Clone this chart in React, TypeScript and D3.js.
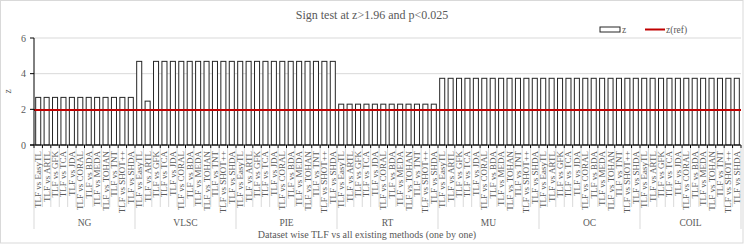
import React from "react";
import * as d3 from "d3";

const datasets = ["NG", "VLSC", "PIE", "RT", "MU", "OC", "COIL"];
const methods = ["EasyTL", "ARTL", "GFK", "TCA", "JDA", "CORAL", "BDA", "MEDA", "TOHAN", "TNT", "SHOT++", "SHDA"];

// z per dataset, one value per method (same order as methods)
const zNG = [2.67, 2.67, 2.67, 2.67, 2.67, 2.67, 2.67, 2.67, 2.67, 2.67, 2.67, 2.67];
const zVLSC = [4.69, 2.46, 4.69, 4.69, 4.69, 4.69, 4.69, 4.69, 4.69, 4.69, 4.69, 4.69];
const zPIE = [4.69, 4.69, 4.69, 4.69, 4.69, 4.69, 4.69, 4.69, 4.69, 4.69, 4.69, 4.69];
const zRT = [2.29, 2.29, 2.29, 2.29, 2.29, 2.29, 2.29, 2.29, 2.29, 2.29, 2.29, 2.29];
const zMU = [3.74, 3.74, 3.74, 3.74, 3.74, 3.74, 3.74, 3.74, 3.74, 3.74, 3.74, 3.74];
const zOC = [3.74, 3.74, 3.74, 3.74, 3.74, 3.74, 3.74, 3.74, 3.74, 3.74, 3.74, 3.74];
const zCOIL = [3.74, 3.74, 3.74, 3.74, 3.74, 3.74, 3.74, 3.74, 3.74, 3.74, 3.74, 3.74];
const zRef = 1.96;
const yTicks = [0, 2, 4, 6];

const allZ = [zNG, zVLSC, zPIE, zRT, zMU, zOC, zCOIL];

function App() {
  const width = 747;
  const height = 247;
  const margin = { top: 38, left: 34, bottom: 102, right: 6 };
  const plotW = width - margin.left - margin.right;
  const plotH = height - margin.top - margin.bottom;

  const rows = datasets.flatMap((ds, i) =>
    methods.map((m, j) => ({ key: ds + "|" + m, ds, label: "TLF vs " + m, z: allZ[i][j] }))
  );

  // band scale with no outer padding so bands sit on the category boundaries
  const x = d3.scaleBand().domain(rows.map(d => d.key)).range([0, plotW]).paddingInner(0).paddingOuter(0);
  const step = x.step();
  const barW = step * 0.6;
  const y = d3.scaleLinear().domain([0, 6]).range([plotH, 0]);

  const gray = "#595959";
  const font = "'Liberation Serif', 'Times New Roman', serif";

  const bounds = d3.range(rows.length + 1).map(i => i * step);

  return (
    <svg width={width} height={height} style={{ position: "absolute", left: 0, top: 0, background: "#fff" }} fontFamily={font}>
      <rect x={0.5} y={0.5} width={742.5} height={242.5} fill="#fff" stroke="#d9d9d9" />
      <text x={372} y={19} textAnchor="middle" fontSize={12} fill={gray}>Sign test at z&gt;1.96 and p&lt;0.025</text>

      {/* legend */}
      <rect x={600} y={27} width={20} height={5} fill="#fff" stroke="#262626" strokeWidth={1} />
      <text x={622} y={33} fontSize={9.5} fill={gray}>z</text>
      <line x1={645} x2={665} y1={29.5} y2={29.5} stroke="#c00000" strokeWidth={2} />
      <text x={666} y={33} fontSize={9.5} fill={gray}>z(ref)</text>

      <g transform={`translate(${margin.left},${margin.top})`}>
        {yTicks.filter(t => t > 0).map(t => (
          <line key={t} x1={0} x2={plotW} y1={y(t)} y2={y(t)} stroke="#d9d9d9" strokeWidth={1} />
        ))}
        {rows.map(d => (
          <rect key={d.key} x={(x(d.key) as number) + (step - barW) / 2} y={y(d.z)} width={barW} height={plotH - y(d.z)}
            fill="#fff" stroke="#262626" strokeWidth={1} />
        ))}
        <line x1={0} x2={plotW} y1={y(zRef)} y2={y(zRef)} stroke="#c00000" strokeWidth={2} />

        {/* y axis */}
        <line x1={0} x2={0} y1={0} y2={plotH} stroke="#000" />
        {yTicks.map(t => (
          <g key={t}>
            <line x1={-4} x2={0} y1={y(t)} y2={y(t)} stroke="#000" />
            <text x={-8} y={y(t) + 3.5} textAnchor="end" fontSize={10} fill={gray}>{t}</text>
          </g>
        ))}
        <text transform={`translate(-23,${plotH / 2}) rotate(-90)`} textAnchor="middle" fontSize={9.5} fill={gray}>z</text>

        {/* x axis */}
        <line x1={-4} x2={plotW} y1={plotH} y2={plotH} stroke="#000" />
        {bounds.map((b, i) => (
          <g key={i}>
            <line x1={b} x2={b} y1={plotH} y2={plotH + 3} stroke="#000" />
            <line x1={b} x2={b} y1={plotH + 3} y2={i % methods.length === 0 ? plotH + 84 : plotH + 62} stroke="#d9d9d9" />
          </g>
        ))}
        {rows.map(d => (
          <text key={d.key} transform={`translate(${(x(d.key) as number) + step / 2 + 3},${plotH + 6}) rotate(-90)`}
            textAnchor="end" fontSize={9} fill={gray}>{d.label}</text>
        ))}
        {datasets.map((ds, i) => (
          <text key={ds} x={(i + 0.5) * methods.length * step} y={plotH + 81} textAnchor="middle" fontSize={9.5} fill={gray}>{ds}</text>
        ))}
        <text x={333} y={plotH + 93} textAnchor="middle" fontSize={10} fill={gray}>Dataset wise TLF vs all existing methods (one by one)</text>
      </g>
    </svg>
  );
}

export default App;
